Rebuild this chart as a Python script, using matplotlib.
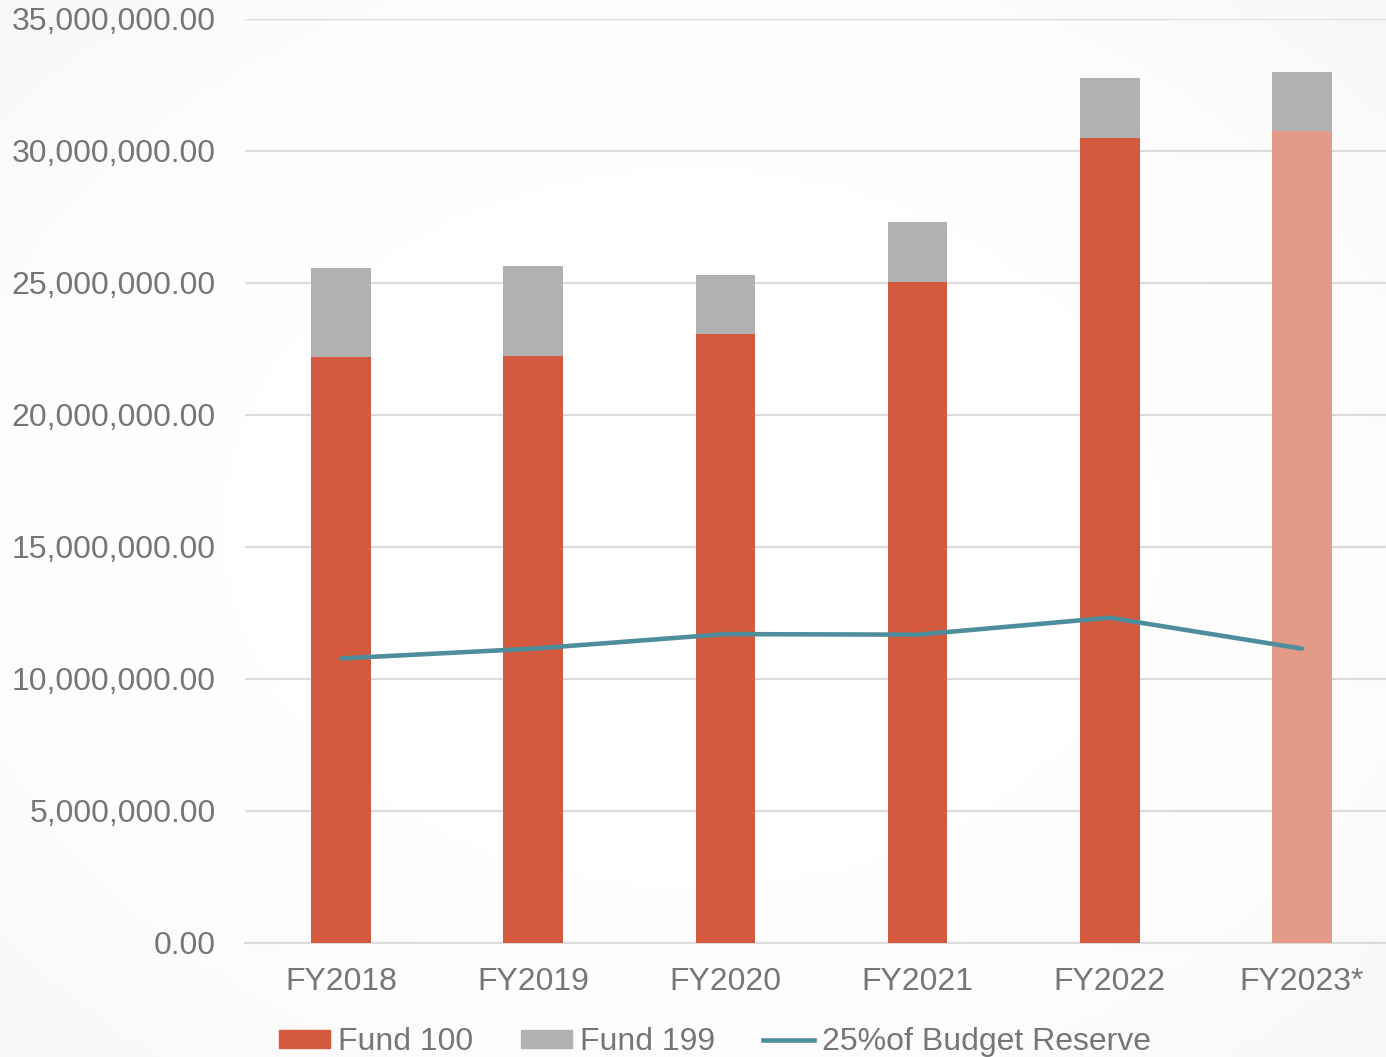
import matplotlib
matplotlib.use("Agg")
import matplotlib.pyplot as plt
import numpy as np
from matplotlib.ticker import FuncFormatter
from matplotlib.patches import Patch
from matplotlib.lines import Line2D

categories = ["FY2018", "FY2019", "FY2020", "FY2021", "FY2022", "FY2023*"]
fund100 = [22.2e6, 22.25e6, 23.05e6, 25.05e6, 30.5e6, 30.75e6]
fund199 = [3.35e6, 3.4e6, 2.25e6, 2.27e6, 2.27e6, 2.25e6]
reserve = [10.78e6, 11.15e6, 11.7e6, 11.68e6, 12.32e6, 11.15e6]

plt.rcParams['font.family'] = ['Liberation Sans', 'DejaVu Sans']
TXT = '#767676'
RED = '#D35A3E'
RED_LIGHT = '#E39A89'
GREY = '#B1B1B1'
TEAL = '#4E8E9C'

W, H = 1386, 1057
fig = plt.figure(figsize=(W / 100, H / 100), dpi=100)

# subtle background vignette
bg = fig.add_axes([0, 0, 1, 1], zorder=-10)
yy, xx = np.mgrid[0:1:200j, 0:1:200j]
r = np.sqrt(((xx - 0.5) / 0.75) ** 2 + ((yy - 0.5) / 0.75) ** 2)
shade = 1 - 0.08 * np.clip(r - 0.45, 0, None) ** 1.5
img = np.dstack([shade, shade, shade])
bg.imshow(img, extent=[0, 1, 0, 1], aspect='auto', origin='lower')
bg.axis('off')

left, right, bottom, top = 245, 1398, 943, 19
ax = fig.add_axes([left / W, (H - bottom) / H, (right - left) / W, (bottom - top) / H])
ax.patch.set_alpha(0)

x = np.arange(len(categories))
colors100 = [RED] * (len(categories) - 1) + [RED_LIGHT]
ax.bar(x, fund100, width=0.31, color=colors100, zorder=3)
ax.bar(x, fund199, bottom=fund100, width=0.31, color=GREY, zorder=3)
ax.plot(x, reserve, color=TEAL, linewidth=3.3, zorder=4, solid_capstyle='round')

ax.set_xlim(-0.5, len(categories) - 0.5)
ax.set_ylim(0, 35e6)
ax.set_yticks(np.arange(0, 35e6 + 1, 5e6))
ax.yaxis.set_major_formatter(FuncFormatter(lambda v, p: f"{v:,.2f}"))
ax.set_xticks(x)
ax.set_xticklabels(categories)
ax.grid(axis='y', color='#DCDCDC', linewidth=1.6, zorder=0)
for s in ['top', 'right', 'left']:
    ax.spines[s].set_visible(False)
ax.spines['bottom'].set_color('#DCDCDC')
ax.spines['bottom'].set_linewidth(1.6)
ax.tick_params(axis='both', length=0, labelsize=23, labelcolor=TXT)
ax.tick_params(axis='y', pad=21)
ax.tick_params(axis='x', pad=17)

handles = [Patch(color=RED, label='Fund 100'),
           Patch(color=GREY, label='Fund 199'),
           Line2D([0], [0], color=TEAL, linewidth=3.3, label='25%of Budget Reserve')]
fig.legend(handles=handles, loc='center', bbox_to_anchor=(0.516, 0.014), ncol=3,
           frameon=False, fontsize=23, labelcolor=TXT, handlelength=1.6,
           handleheight=0.5, handletextpad=0.25, columnspacing=1.5)

fig.savefig('out.png', dpi=100)
